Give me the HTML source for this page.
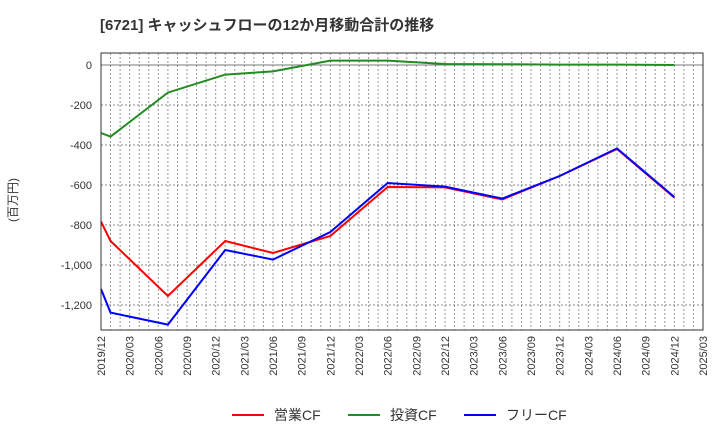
<!DOCTYPE html>
<html><head><meta charset="utf-8">
<style>
body{margin:0;background:#fff;font-family:"Liberation Sans","Noto Sans CJK JP",sans-serif;}
svg text{font-family:"Liberation Sans","Noto Sans CJK JP",sans-serif;}
</style></head>
<body>
<svg id="chart" width="720" height="440" xmlns="http://www.w3.org/2000/svg">
<text x="100" y="30" font-size="15" font-weight="bold" fill="#333">[6721]  キャッシュフローの12か月移動合計の推移</text>
<text transform="translate(17,200) rotate(-90)" font-size="12" fill="#333" text-anchor="middle">(百万円)</text>
<g id="grid"></g>
<g id="series"></g>
<g id="axes"></g>
<g id="legend"></g>
</svg>
<script>
const xLabels=["2019/12","2020/03","2020/06","2020/09","2020/12","2021/03","2021/06","2021/09","2021/12","2022/03","2022/06","2022/09","2022/12","2023/03","2023/06","2023/09","2023/12","2024/03","2024/06","2024/09","2024/12","2025/03"];
const yTicks=[0,-200,-400,-600,-800,-1000,-1200];
const yTickLabels=["0","-200","-400","-600","-800","-1,000","-1,200"];
const months=[0,1,7,13,18,24,30,36,42,48,54,60];
const operatingCF=[-783,-880,-1155,-880,-940,-855,-610,-612,-672,-555,-420,-663];
const investingCF=[-340,-358,-138,-48,-32,22,22,5,4,2,2,0];
const freeCF=[-1120,-1238,-1298,-925,-973,-835,-590,-608,-668,-555,-417,-660];

const NS="http://www.w3.org/2000/svg";
const L=101,R=703,T=53,B=330;
const mw=(R-L)/63;
const xS=m=>L+m*mw;
const yS=v=>65-v*0.2;
function mk(tag,attrs,parent){const e=document.createElementNS(NS,tag);for(const k in attrs)e.setAttribute(k,attrs[k]);parent.appendChild(e);return e;}
const grid=document.getElementById('grid'),axes=document.getElementById('axes'),ser=document.getElementById('series'),leg=document.getElementById('legend');
for(let m=1;m<63;m++){
  const g=mk('line',{x1:xS(m),x2:xS(m),y1:T,y2:B,stroke:'#999','stroke-width':1,'stroke-dasharray':'2,2'},grid);
  
  
}
yTicks.forEach((v,i)=>{
  const g=mk('line',{x1:L,x2:R,y1:yS(v),y2:yS(v),stroke:v===0?'#777':'#888','stroke-width':1,'stroke-dasharray':v===0?'':'2,2'},grid);
  
  
  const t=mk('text',{x:L-9,y:yS(v)+4,'font-size':11,'text-anchor':'end',fill:'#333'},axes);
  t.textContent=yTickLabels[i];
  
  
});
xLabels.forEach((s,i)=>{
  const x=xS(i*3);
  const t=mk('text',{transform:`translate(${x+4},${B+6}) rotate(-90)`,'font-size':11,'text-anchor':'end',fill:'#333'},axes);
  t.textContent=s;
  
  
});
const fr=mk('rect',{x:L,y:T,width:R-L,height:B-T,fill:'none',stroke:'#333','stroke-width':1},axes);


const defs=[["operating-cf-line",operatingCF,"#ff0000"],["investing-cf-line",investingCF,"#228b22"],["free-cf-line",freeCF,"#0000ff"]];
defs.forEach(([n,arr,c])=>{
  const p=mk('polyline',{points:arr.map((v,i)=>xS(months[i])+','+yS(v)).join(' '),fill:'none',stroke:c,'stroke-width':2},ser);
  
  
});
const legItems=[["営業CF","#ff0000",232],["投資CF","#228b22",348],["フリーCF","#0000ff",464]];
legItems.forEach(([s,c,x])=>{
  const g=mk('g',{},leg);
  
  
  mk('line',{x1:x,x2:x+32,y1:415,y2:415,stroke:c,'stroke-width':2},g);
  const t=mk('text',{x:x+42,y:420,'font-size':14,fill:'#333'},g);
  t.textContent=s;
});
</script>
</body></html>
